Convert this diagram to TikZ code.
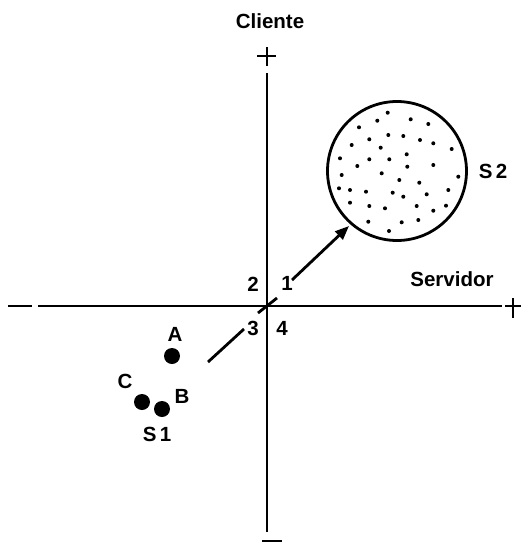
\documentclass[tikz,border=0pt]{standalone}
\usepackage{fontspec}
\setmainfont{Liberation Sans}
\usetikzlibrary{arrows.meta}
\tikzset{
  axis/.style={line width=2.8pt},
  thinplus/.style={line width=1.3pt},
  lbl/.style={font=\fontsize{20.5}{20.5}\selectfont\bfseries, inner sep=0pt, anchor=base},
  bigdot/.style={circle, fill=black, minimum size=16pt, inner sep=0pt},
  smalldot/.style={circle, fill=black, minimum size=4pt, inner sep=0pt},
  arr/.style={line width=2.8pt},
}
\begin{document}
\begin{tikzpicture}[x=1pt,y=-1pt]
\useasboundingbox (0,0) rectangle (526,542);
% axes
\coordinate (vtop) at (267,73);
\coordinate (vbot) at (267,532);
\coordinate (hl) at (38,306);
\coordinate (hr) at (502,306);
\draw[axis] (vtop) -- (vbot);
\draw[axis] (hl) -- (hr);
% signs
\coordinate (tp) at (267,56);
\draw[thinplus] ([xshift=-10pt]tp) -- ([xshift=9pt]tp);
\draw[thinplus] ([yshift=-10pt]tp) -- ([yshift=9pt]tp);
\coordinate (rp) at (513,306);
\draw[thinplus] ([xshift=-8pt]rp) -- ([xshift=8pt]rp);
\draw[thinplus] ([yshift=-12pt]rp) -- ([yshift=8pt]rp);
\coordinate (lm) at (8,306);
\draw[axis] (lm) -- ++(24,0);
\coordinate (bm) at (262,541);
\draw[axis] (bm) -- ++(20,0);
% labels
\node[lbl] (cliente) at (270,28) {Cliente};
\node[lbl] (servidor) at (452,286) {Servidor};
\node[lbl] (q1) at (287,290) {1};
\node[lbl] (q2) at (253,291) {2};
\node[lbl] (q3) at (253,335) {3};
\node[lbl] (q4) at (282,335) {4};
\node[lbl] (la) at (175,341) {A};
\node[lbl] (lb) at (182,403) {B};
\node[lbl] (lc) at (125,388) {C};
\node[lbl] (ls1) at (157,441) {S\,1};
\node[lbl] (ls2) at (493,178) {S\,2};
% S1 points
\node[bigdot] (pa) at (172,356) {};
\node[bigdot] (pc) at (142,402) {};
\node[bigdot] (pb) at (162,409) {};
% S2 circle
\node[draw, circle, line width=2.8pt, minimum size=139pt, inner sep=0pt] (s2) at (397,171) {};
\foreach \x/\y in {387.7/112.7,377.3/120.7,359/127.3,410.7/119.3,428.3/124,369.3/139.3,388.3/135,403.3/136,420/140,433.3/143.3,351.7/145,380.7/147.7,451.7/149,406.7/154.3,340/158.3,369.3/159.3,389.3/159.3,357.3/166,407.3/166.7,433.3/165,341.7/175,381.7/173.3,399.3/180,419.3/182.7,458.3/176.7,339/188.3,350/190,366/191.7,392.7/192.7,403.3/196.7,426.7/194.3,448.3/190,350/202.7,369.3/206,385/208.3,416.7/206,433.3/210.7,446/205.7,368.3/221.7,401.7/222.3,418.3/220,389/231}
  \node[smalldot] at (\x,\y) {};
% broken arrow from S1 to S2
\coordinate (a1) at (208,362);
\coordinate (a2) at (244,329);
\coordinate (a3) at (258,313);
\coordinate (a4) at (277,298);
\coordinate (a5) at (292,280);
\coordinate (a6) at (349,226);
\draw[arr] (a1) -- (a2);
\draw[arr] (a3) -- (a4);
\draw[arr, -{Triangle[length=14pt,width=11pt]}] (a5) -- (a6);
\end{tikzpicture}
\end{document}
